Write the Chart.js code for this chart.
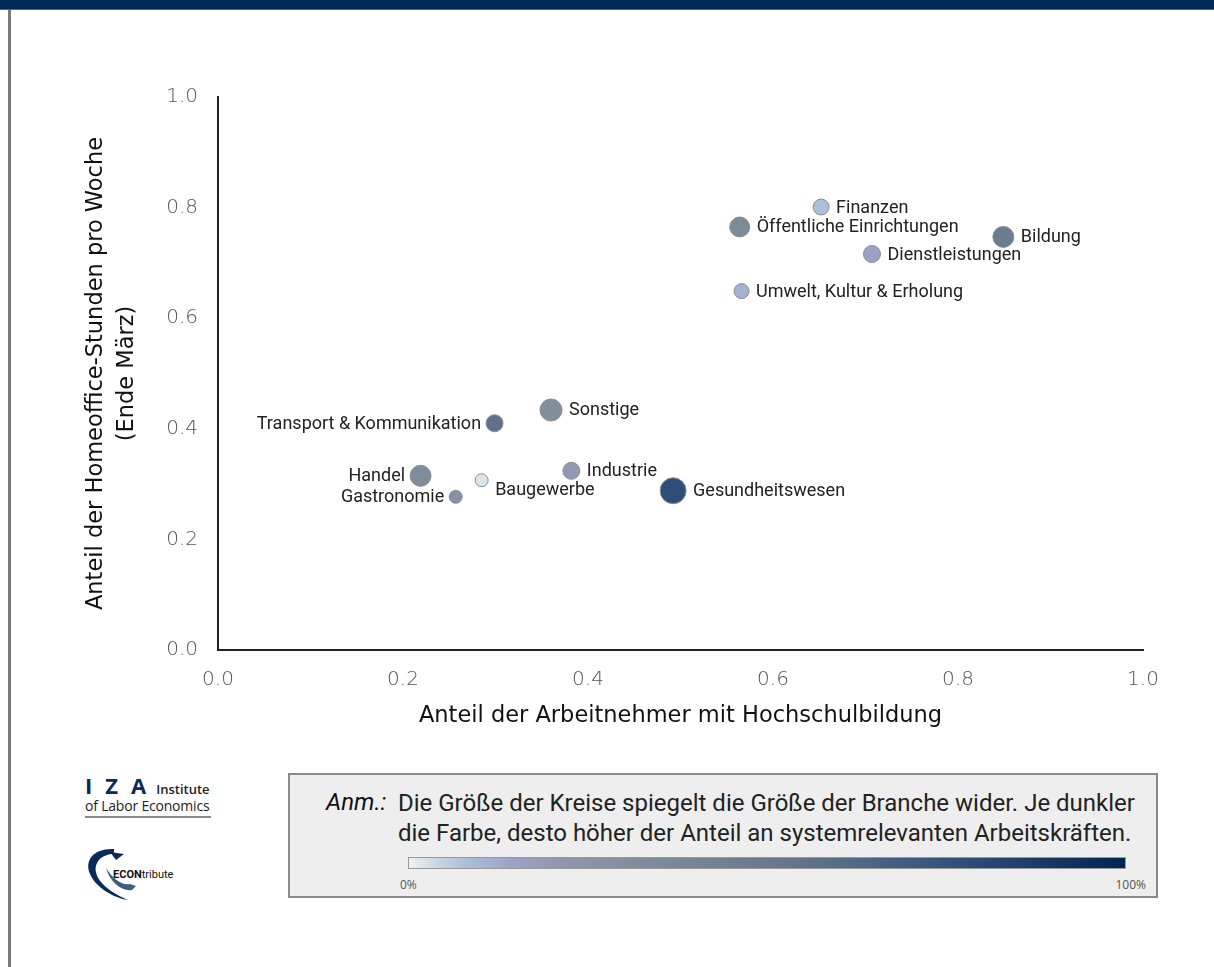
<!DOCTYPE html>
<html lang="de">
<head>
<meta charset="utf-8">
<script src="https://cdn.jsdelivr.net/npm/chart.js@4.4.1/dist/chart.umd.min.js"></script>
<style>
  body { margin: 0; background: #fff; width: 1214px; height: 967px; position: relative; overflow: hidden; font-family: "Open Sans", sans-serif; }
  #topbar { position: absolute; left: 0; top: 0; width: 1214px; height: 9px; background: #00285a; border-bottom: 1px solid #4d6a8c; }
  #leftbar { position: absolute; left: 8px; top: 10px; width: 3px; height: 957px; background: #7a7a7a; }
  #chartBox { position: absolute; left: 0; top: 0; width: 1214px; height: 750px; }
  #iza { position: absolute; left: 85px; top: 770px; width: 126px; color: #0b2a5c; font-family: "Open Sans", sans-serif; }
  #iza .big { font-size: 22px; font-weight: 700; letter-spacing: 13px; }
  #iza .small { font-size: 13px; color: #222; font-weight: 600; margin-left: -3px; }
  #iza .line { border-bottom: 2px solid #888; padding-bottom: 1px; margin-top: -4px; font-size: 14px; color: #222; letter-spacing: -0.2px; white-space: nowrap; }
  #econ { position: absolute; left: 84px; top: 846px; }
  #note { position: absolute; left: 288px; top: 773px; width: 866px; height: 121px; background: #eeeeee; border: 2px solid #8a8a8a; }
  #note .anm { position: absolute; left: 36px; top: 13px; font-family: Roboto, sans-serif; font-style: italic; font-size: 24px; color: #111; }
  #note .txt { position: absolute; left: 108px; top: 13px; font-family: Roboto, sans-serif; font-size: 24px; line-height: 30px; color: #222; letter-spacing: 0px; white-space: nowrap; }
  #bar { position: absolute; left: 118px; top: 82px; width: 716px; height: 10px; border: 1px solid #999; }
  #note .p0 { position: absolute; left: 110px; top: 101px; font-size: 12px; color: #555; }
  #note .p100 { position: absolute; right: 10px; top: 101px; font-size: 12px; color: #555; }
</style>
</head>
<body>
<div id="topbar"></div>
<div id="leftbar"></div>
<div id="chartBox"><canvas id="homeofficeChart" width="1214" height="750"></canvas></div>

<div id="iza">
  <div><span class="big">IZA</span><span class="small">Institute</span></div>
  <div class="line">of Labor Economics</div>
</div>
<svg id="econ" width="100" height="60" viewBox="0 0 100 60">
  <path d="M30 3 C10 2 0 14 6 28 C12 42 30 52 44 54 C30 48 14 38 12 26 C10 16 18 8 30 8 Z" fill="#0b2a5c"/>
  <path d="M26 6 L40 8 L32 14 Z" fill="#0b2a5c"/>
  <path d="M22 22 C26 36 38 46 48 44 L52 40 L46 38 C38 40 28 32 22 22 Z" fill="#3d5f80"/>
  <text x="29" y="32" font-family="Roboto, sans-serif" font-size="11" fill="#111"><tspan font-weight="700">ECON</tspan>tribute</text>
</svg>

<div id="note">
  <div class="anm">Anm.:</div>
  <div class="txt">Die Größe der Kreise spiegelt die Größe der Branche wider. Je dunkler<br>die Farbe, desto höher der Anteil an systemrelevanten Arbeitskräften.</div>
  <div id="bar"></div>
  <div class="p0">0%</div>
  <div class="p100">100%</div>
</div>

<script>
// Branchen und Werte
const branchen = ["Finanzen", "Öffentliche Einrichtungen", "Bildung", "Dienstleistungen",
  "Umwelt, Kultur & Erholung", "Sonstige", "Transport & Kommunikation", "Handel",
  "Gastronomie", "Baugewerbe", "Industrie", "Gesundheitswesen"];
const anteilHochschule = [0.652, 0.564, 0.849, 0.707, 0.566, 0.360, 0.299, 0.219, 0.257, 0.285, 0.382, 0.492];
const anteilHomeoffice = [0.801, 0.765, 0.747, 0.716, 0.649, 0.434, 0.410, 0.315, 0.277, 0.307, 0.324, 0.288];
const groesse = [8, 10, 10.5, 8.5, 7.5, 11, 8.5, 10.5, 6.5, 6.5, 8.5, 13];
const anteilSystemrelevant = [0.08, 0.35, 0.48, 0.15, 0.11, 0.30, 0.57, 0.33, 0.27, 0.02, 0.20, 0.78];
const achsenTicks = [0, 0.2, 0.4, 0.6, 0.8, 1.0];

// Farbskala 0% .. 100%
const farbStops = [
  [0.00, [238, 242, 240]],
  [0.04, [200, 214, 226]],
  [0.08, [170, 192, 216]],
  [0.14, [158, 164, 200]],
  [0.20, [146, 152, 176]],
  [0.30, [132, 143, 156]],
  [0.48, [107, 124, 142]],
  [0.57, [94, 113, 137]],
  [0.78, [46, 78, 120]],
  [1.00, [2, 36, 80]],
];

function farbe(v) {
  for (let i = 1; i < farbStops.length; i++) {
    if (v <= farbStops[i][0]) {
      const a = farbStops[i - 1], b = farbStops[i];
      const t = (v - a[0]) / (b[0] - a[0]);
      const c = a[1].map((k, j) => Math.round(k + (b[1][j] - k) * t));
      return "rgb(" + c.join(",") + ")";
    }
  }
  return "rgb(2,36,80)";
}

document.getElementById("bar").style.background =
  "linear-gradient(to right, " + farbStops.map((s) => farbe(s[0]) + " " + (s[0] * 100) + "%").join(", ") + ")";

// Beschriftung: links oder rechts vom Kreis
const linksBeschriftet = ["Transport & Kommunikation", "Handel", "Gastronomie"];
const untenBeschriftet = ["Baugewerbe"];

const labelPlugin = {
  id: "branchenLabels",
  afterDatasetsDraw(chart) {
    const ctx = chart.ctx;
    const meta = chart.getDatasetMeta(0);
    ctx.save();
    ctx.font = "18px Roboto, sans-serif";
    ctx.fillStyle = "#222";
    ctx.textBaseline = "middle";
    meta.data.forEach((pt, i) => {
      const name = branchen[i];
      const r = pt.options.radius;
      let dy = 1;
      if (untenBeschriftet.includes(name)) dy = 10;
      if (linksBeschriftet.includes(name)) {
        ctx.textAlign = "right";
        ctx.fillText(name, pt.x - r - 5, pt.y + dy);
      } else {
        ctx.textAlign = "left";
        ctx.fillText(name, pt.x + r + 7, pt.y + dy);
      }
    });
    ctx.restore();
  },
};

function drawHomeofficeChart() {
  const ctx = document.getElementById("homeofficeChart").getContext("2d");
  const punkte = branchen.map((b, i) => ({ x: anteilHochschule[i], y: anteilHomeoffice[i], r: groesse[i] }));

  const tickFont = { family: "DejaVu Sans", size: 20, weight: "300" };
  const titleFont = { family: "DejaVu Sans", size: 22.5, lineHeight: 1.38 };

  new Chart(ctx, {
    type: "bubble",
    data: {
      datasets: [
        {
          label: "Branchen",
          data: punkte,
          backgroundColor: anteilSystemrelevant.map(farbe),
          borderColor: "#8a8f96",
          borderWidth: 1,
        },
      ],
    },
    options: {
      responsive: false,
      animation: false,
      devicePixelRatio: 1,
      layout: { padding: { left: 78, top: 97, right: 71, bottom: 0 } },
      plugins: { legend: { display: false }, tooltip: { enabled: false } },
      scales: {
        x: {
          type: "linear",
          min: 0,
          max: 1,
          afterBuildTicks: (s) => { s.ticks = achsenTicks.map((v) => ({ value: v })); },
          afterFit: (s) => { s.height = 100; },
          grid: { display: false, drawTicks: false },
          border: { display: true, color: "#222", width: 2 },
          ticks: { padding: 18, color: "#555", font: tickFont, callback: (v) => v.toFixed(1) },
          title: { display: true, text: "Anteil der Arbeitnehmer mit Hochschulbildung", color: "#111", font: titleFont, padding: { top: 4, bottom: 18 } },
        },
        y: {
          type: "linear",
          min: 0,
          max: 1,
          afterBuildTicks: (s) => { s.ticks = achsenTicks.map((v) => ({ value: v })); },
          afterFit: (s) => { s.width = 140; },
          grid: { display: false, drawTicks: false },
          border: { display: true, color: "#222", width: 2 },
          ticks: { padding: 20, color: "#555", font: tickFont, callback: (v) => v.toFixed(1) },
          title: { display: true, text: ["Anteil der Homeoffice-Stunden pro Woche", "(Ende März)"], color: "#111", font: titleFont, padding: { top: 3, bottom: 4 } },
        },
      },
    },
    plugins: [labelPlugin],
  });
}

document.addEventListener("DOMContentLoaded", function () {
  drawHomeofficeChart();
});
</script>
</body>
</html>
